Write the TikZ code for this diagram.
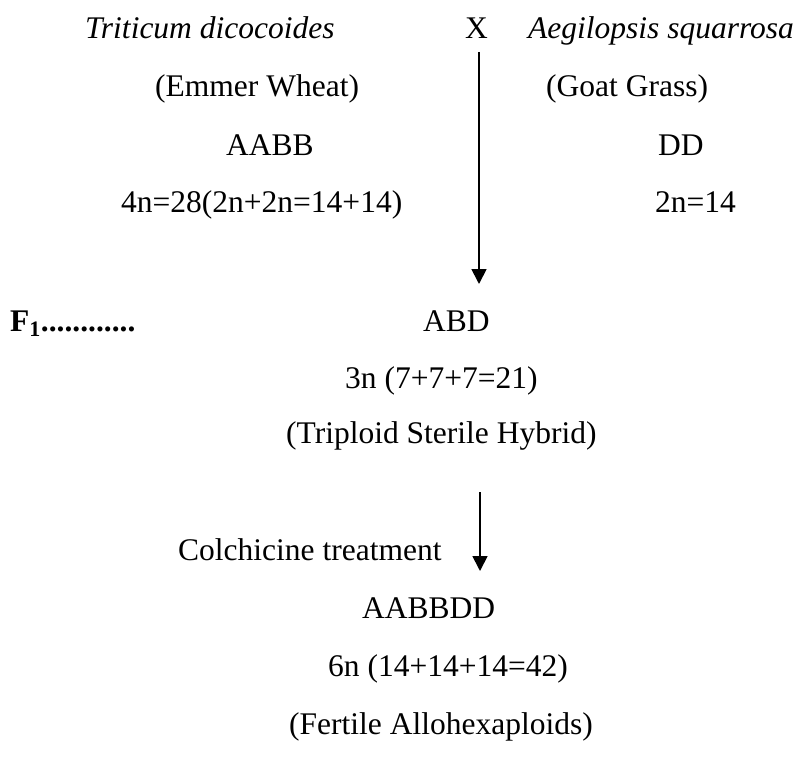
\documentclass[tikz,border=0pt]{standalone}
\usepackage{fontspec}
\setmainfont{Liberation Serif}
\usetikzlibrary{arrows.meta}
\begin{document}
\begin{tikzpicture}[x=1pt,y=-1pt,
  lbl/.style={anchor=base west,inner sep=0pt,font=\fontsize{31.5}{36}\selectfont},
  flow/.style={line width=1.8pt,-{Triangle[width=15pt,length=15pt]}}]
\useasboundingbox (0,0) rectangle (802,773);
\node[lbl] (tri) at (85,39) {\itshape Triticum dicocoides};
\node[lbl] (x) at (465,39) {X};
\node[lbl] (aeg) at (528,39) {\itshape Aegilopsis squarrosa};
\node[lbl] (emm) at (155,97) {(Emmer Wheat)};
\node[lbl] (goat) at (546,97) {(Goat Grass)};
\node[lbl] (aabb) at (226,155) {AABB};
\node[lbl] (dd) at (658,155) {DD};
\node[lbl] (c4n) at (121,212) {4n=28(2n+2n=14+14)};
\node[lbl] (c2n) at (655,212) {2n=14};
\node[lbl] (f1) at (10,331) {\bfseries F\textsubscript{1}............};
\node[lbl] (abd) at (423,331) {ABD};
\node[lbl] (c3n) at (345,388) {3n (7+7+7=21)};
\node[lbl] (trip) at (286,443) {(Triploid Sterile Hybrid)};
\node[lbl] (col) at (178,560) {Colchicine treatment};
\node[lbl] (aabbdd) at (362,618) {AABBDD};
\node[lbl] (c6n) at (328,676) {6n (14+14+14=42)};
\node[lbl] (fert) at (289,734) {(Fertile Allohexaploids)};
\coordinate (a1s) at (479,52);
\coordinate (a1e) at (479,284);
\coordinate (a2s) at (480,492);
\coordinate (a2e) at (480,571);
\draw[flow] (a1s) -- (a1e);
\draw[flow] (a2s) -- (a2e);
\end{tikzpicture}
\end{document}
